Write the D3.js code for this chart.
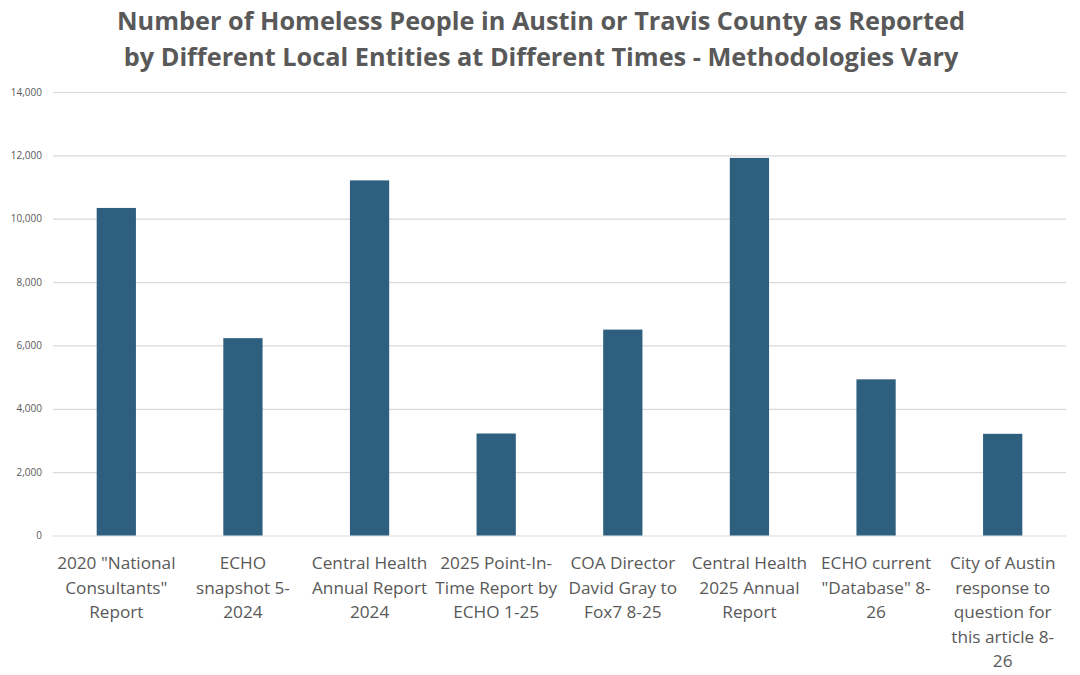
<!DOCTYPE html>
<html>
<head>
<meta charset="utf-8">
<script src="https://cdn.jsdelivr.net/npm/d3@7"></script>
<style>
  body { margin: 0; background: #fff; }
  svg { display: block; }
</style>
</head>
<body>
<svg id="chart" width="1080" height="675"></svg>
<script>
var titleLines = [
  "Number of Homeless People in Austin or Travis County as Reported",
  "by Different Local Entities at Different Times - Methodologies Vary"
];
var categories = [
  "2020 \"National\nConsultants\"\nReport",
  "ECHO\nsnapshot 5-\n2024",
  "Central Health\nAnnual Report\n2024",
  "2025 Point-In-\nTime Report by\nECHO 1-25",
  "COA Director\nDavid Gray to\nFox7 8-25",
  "Central Health\n2025 Annual\nReport",
  "ECHO current\n\"Database\" 8-\n26",
  "City of Austin\nresponse to\nquestion for\nthis article 8-\n26"
];
var values = [10340, 6230, 11210, 3220, 6500, 11920, 4930, 3210];
var yTicks = [0, 2000, 4000, 6000, 8000, 10000, 12000, 14000];

var svg = d3.select("#chart"),
  plotLeft = 53,
  plotRight = 1066,
  plotTop = 92,
  plotBottom = 535.5;

var textColor = "#595959";

var x = d3.scaleBand().domain(d3.range(categories.length)).range([plotLeft, plotRight]).paddingInner(0.69).paddingOuter(0.345);
var y = d3.scaleLinear().domain([0, 14000]).range([plotBottom, plotTop]);

// title
svg.append("g")
  .selectAll("text")
  .data(titleLines)
  .enter()
  .append("text")
  .attr("x", 541)
  .attr("y", function (d, i) { return 30 + i * 36; })
  .attr("text-anchor", "middle")
  .style("font-family", "Open Sans, sans-serif")
  .style("font-weight", "bold")
  .style("font-size", "25.3px")
  .style("fill", textColor)
  .text(function (d) { return d; });

// grid + y labels
var yAxis = svg.append("g")
  .attr("transform", "translate(" + plotLeft + ",0)")
  .call(d3.axisLeft(y).tickValues(yTicks).tickSize(-(plotRight - plotLeft)).tickPadding(11).tickFormat(d3.format(",")));
yAxis.select(".domain").remove();
yAxis.selectAll("line").attr("stroke", "#d9d9d9").attr("stroke-width", 1.2);
yAxis.selectAll("text")
  .style("font-family", "Open Sans, sans-serif")
  .style("font-size", "10px")
  .style("fill", textColor);

// bars
svg.append("g")
  .selectAll("rect")
  .data(values)
  .enter()
  .append("rect")
  .attr("x", function (d, i) { return x(i); })
  .attr("y", function (d) { return y(d); })
  .attr("width", x.bandwidth())
  .attr("height", function (d) { return y(0) - y(d); })
  .style("fill", "#2e5f7f");

// category labels
var labels = svg.append("g")
  .selectAll("text")
  .data(categories)
  .enter()
  .append("text")
  .attr("text-anchor", "middle")
  .style("font-family", "Open Sans, sans-serif")
  .style("font-size", "17.2px")
  .style("fill", textColor);

labels.each(function (d, i) {
  var t = d3.select(this);
  d.split("\n").forEach(function (line, j) {
    t.append("tspan")
      .attr("x", x(i) + x.bandwidth() / 2)
      .attr("y", 569 + j * 24.6)
      .text(line);
  });
});
</script>
</body>
</html>
